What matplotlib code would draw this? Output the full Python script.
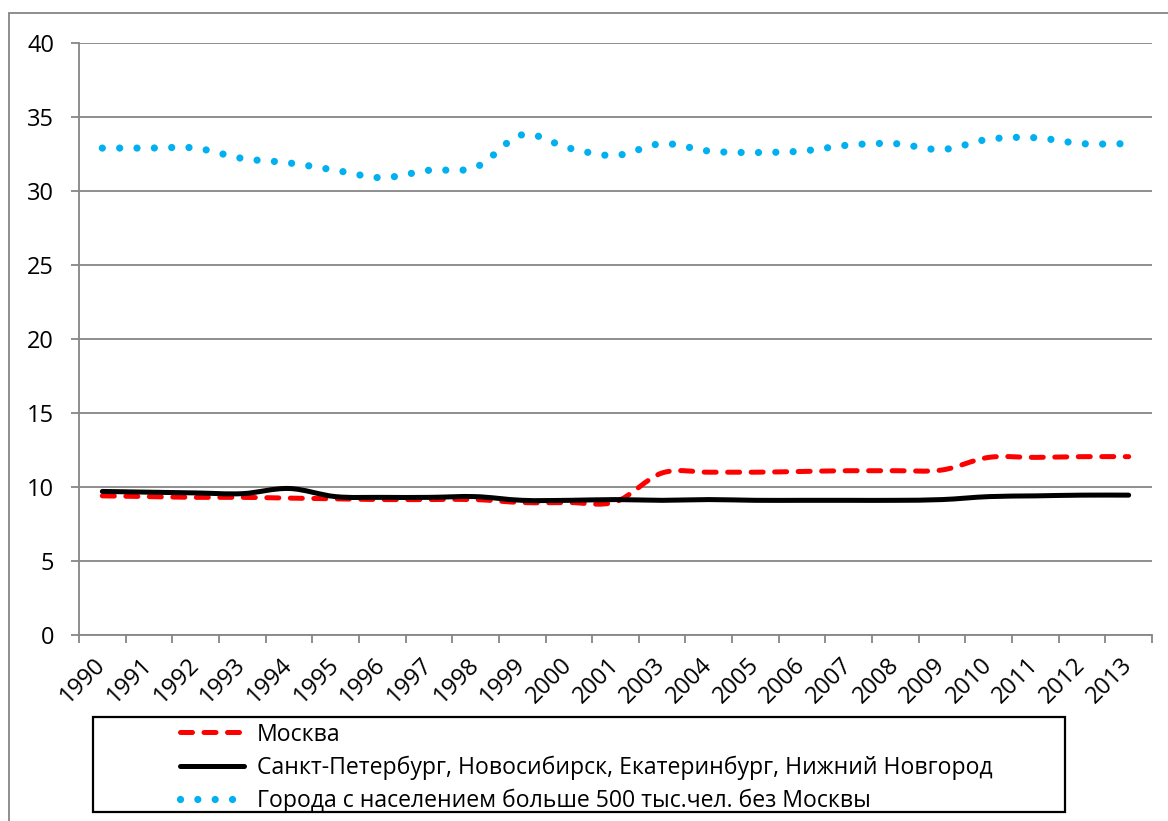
import numpy as np
import matplotlib
matplotlib.use('Agg')
import matplotlib.pyplot as plt
from matplotlib.path import Path
from matplotlib.patches import PathPatch, Rectangle
from matplotlib.lines import Line2D

plt.rcParams['font.family'] = ['Open Sans', 'DejaVu Sans']

# Data
years = ['1990', '1991', '1992', '1993', '1994', '1995', '1996', '1997', '1998',
         '1999', '2000', '2001', '2003', '2004', '2005', '2006', '2007', '2008',
         '2009', '2010', '2011', '2012', '2013']
moscow = [9.4, 9.35, 9.3, 9.3, 9.25, 9.2, 9.15, 9.15, 9.15, 8.95, 8.95, 9.0,
          10.95, 11.0, 11.0, 11.05, 11.1, 11.1, 11.15, 12.0, 12.0, 12.05, 12.05]
big4 = [9.7, 9.65, 9.6, 9.55, 9.9, 9.35, 9.3, 9.3, 9.35, 9.1, 9.1, 9.15,
        9.1, 9.15, 9.1, 9.1, 9.1, 9.1, 9.15, 9.35, 9.4, 9.45, 9.45]
cities = [32.9, 32.9, 32.9, 32.2, 31.9, 31.4, 30.9, 31.4, 31.6, 33.8, 32.9, 32.4,
          33.2, 32.7, 32.6, 32.7, 33.1, 33.2, 32.8, 33.5, 33.6, 33.2, 33.2]
labels = ['Москва',
          'Санкт-Петербург, Новосибирск, Екатеринбург, Нижний Новгород',
          'Города с населением больше 500 тыс.чел. без Москвы']

W, H = 1168, 821
fig = plt.figure(figsize=(W / 100, H / 100), dpi=100)
ax = fig.add_axes([79 / W, 1 - 635 / H, (1152 - 79) / W, (635 - 43) / H])

grid_c = '#868686'


def smooth_path(vals):
    # Excel-like smoothed line: cubic bezier through every data point
    pts = np.column_stack([np.arange(len(vals)), vals]).astype(float)
    n = len(pts)
    verts = [pts[0]]
    codes = [Path.MOVETO]
    for i in range(n - 1):
        p0 = pts[max(i - 1, 0)]
        p1 = pts[i]
        p2 = pts[i + 1]
        p3 = pts[min(i + 2, n - 1)]
        verts += [p1 + (p2 - p0) / 6, p2 - (p3 - p1) / 6, p2]
        codes += [Path.CURVE4] * 3
    return Path(verts, codes)


styles = [
    dict(color='#FF0000', lw=3.6, ls=(0, (2.4, 2.3))),
    dict(color='black', lw=3.6, ls='-'),
    dict(color='#00B0F0', lw=5.2, ls=(0, (0.001, 2.4))),
]

for vals, st in zip([moscow, big4, cities], styles):
    patch = PathPatch(smooth_path(vals), fill=False, edgecolor=st['color'],
                      lw=st['lw'], linestyle=st['ls'], capstyle='round',
                      joinstyle='round', zorder=3)
    ax.add_patch(patch)

ax.set_xlim(-0.5, len(years) - 0.5)
ax.set_ylim(0, 40)
ax.set_yticks(range(0, 41, 5))
ax.yaxis.grid(True, color=grid_c, lw=1.3)
ax.set_axisbelow(True)

for s in ['top', 'right']:
    ax.spines[s].set_visible(False)
for s in ['left', 'bottom']:
    ax.spines[s].set_color(grid_c)
    ax.spines[s].set_linewidth(1.3)

ax.set_xticks(range(len(years)))
ax.set_xticklabels(years, rotation=45, ha='right', va='center',
                   rotation_mode='anchor')
ax.set_xticks(np.arange(-0.5, len(years)), minor=True)
ax.tick_params(axis='x', which='major', length=0, pad=19, labelsize=17)
ax.tick_params(axis='x', which='minor', length=6, width=1.3, color=grid_c)
ax.tick_params(axis='y', length=6, width=1.3, color=grid_c, labelsize=17, pad=12)

# outer chart border
fig.patches.append(Rectangle((9 / W, -0.1), 1.2, 1 - 13 / H + 0.1,
                             transform=fig.transFigure, fill=False,
                             edgecolor=grid_c, lw=1.3))
# legend box
fig.patches.append(Rectangle((93 / W, 1 - 812 / H), (1065 - 93) / W, (812 - 717) / H,
                             transform=fig.transFigure, fill=False,
                             edgecolor='black', lw=1.6, zorder=5))

handles = [Line2D([], [], color=st['color'], lw=st['lw'], ls=st['ls'],
                  dash_capstyle='round', solid_capstyle='round') for st in styles]
fig.legend(handles, labels, loc='upper left', bbox_to_anchor=(168 / W, 1 - 711 / H),
           frameon=False, fontsize=16.6, handlelength=2.8, handletextpad=0.55,
           labelspacing=0.38, borderpad=0)

fig.savefig('out.png', dpi=100)
